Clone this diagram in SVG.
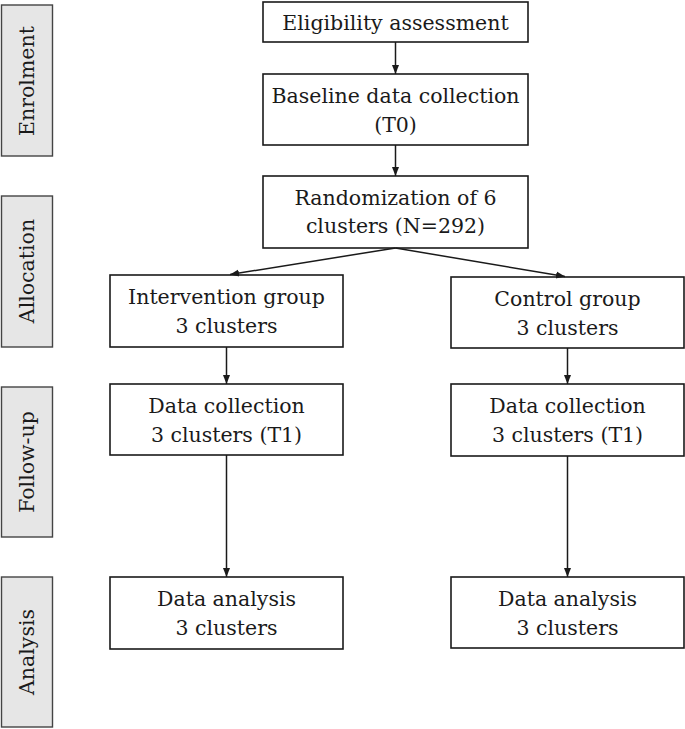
<svg xmlns="http://www.w3.org/2000/svg" width="685" height="729" viewBox="0 0 685 729">
<defs>
<marker id="ah" markerWidth="10" markerHeight="10" refX="9" refY="5" orient="auto" markerUnits="userSpaceOnUse">
<path d="M0,1.5 L9,5 L0,8.5 Z" fill="#1a1a1a"/>
</marker>
<style>
.box{fill:#fff;stroke:#1a1a1a;stroke-width:1.6}
.side{fill:#e6e6e6;stroke:#444;stroke-width:1.4}
text{font-family:"DejaVu Serif",serif;font-size:20.5px;fill:#1a1a1a;text-anchor:middle}
.conn line{stroke:#1a1a1a;stroke-width:1.5;marker-end:url(#ah)}
</style>
</defs>
<rect width="685" height="729" fill="#fff"/>
<g id="stage-enrolment"><rect class="side" x="1.5" y="5" width="51" height="151"/><text transform="translate(34,81) rotate(-90)">Enrolment</text></g>
<g id="stage-allocation"><rect class="side" x="1.5" y="196" width="51" height="151"/><text transform="translate(34,271) rotate(-90)">Allocation</text></g>
<g id="stage-followup"><rect class="side" x="1.5" y="387" width="51" height="150"/><text transform="translate(34,462) rotate(-90)">Follow-up</text></g>
<g id="stage-analysis"><rect class="side" x="1.5" y="577" width="51" height="150"/><text transform="translate(34,652) rotate(-90)">Analysis</text></g>

<g id="eligibility"><rect class="box" x="263" y="2" width="265" height="40"/><text x="395.5" y="30">Eligibility assessment</text></g>
<g id="baseline"><rect class="box" x="263" y="74" width="265" height="71"/><text x="395.5" y="103">Baseline data collection</text><text x="395.5" y="132">(T0)</text></g>
<g id="randomization"><rect class="box" x="263" y="176" width="265" height="72"/><text x="395.5" y="205">Randomization of 6</text><text x="395.5" y="233">clusters (N=292)</text></g>

<g id="intervention"><rect class="box" x="110" y="275" width="233" height="72"/><text x="226.5" y="304">Intervention group</text><text x="226.5" y="333">3 clusters</text></g>
<g id="control"><rect class="box" x="451" y="277" width="233" height="71"/><text x="567.5" y="306">Control group</text><text x="567.5" y="335">3 clusters</text></g>

<g id="collection-left"><rect class="box" x="110" y="384" width="233" height="71"/><text x="226.5" y="413">Data collection</text><text x="226.5" y="442">3 clusters (T1)</text></g>
<g id="collection-right"><rect class="box" x="451" y="384" width="233" height="72"/><text x="567.5" y="413">Data collection</text><text x="567.5" y="442">3 clusters (T1)</text></g>

<g id="analysis-left"><rect class="box" x="110" y="577" width="233" height="72"/><text x="226.5" y="606">Data analysis</text><text x="226.5" y="635">3 clusters</text></g>
<g id="analysis-right"><rect class="box" x="451" y="577" width="233" height="71"/><text x="567.5" y="606">Data analysis</text><text x="567.5" y="635">3 clusters</text></g>

<g class="conn" id="connectors">
<line x1="395.5" y1="42" x2="395.5" y2="74"/>
<line x1="395.5" y1="145" x2="395.5" y2="176"/>
<line x1="395.5" y1="248" x2="230" y2="274.5"/>
<line x1="395.5" y1="248" x2="565" y2="276.5"/>
<line x1="226.5" y1="347" x2="226.5" y2="384"/>
<line x1="567.5" y1="348" x2="567.5" y2="384"/>
<line x1="226.5" y1="455" x2="226.5" y2="577"/>
<line x1="567.5" y1="456" x2="567.5" y2="577"/>
</g>
</svg>
